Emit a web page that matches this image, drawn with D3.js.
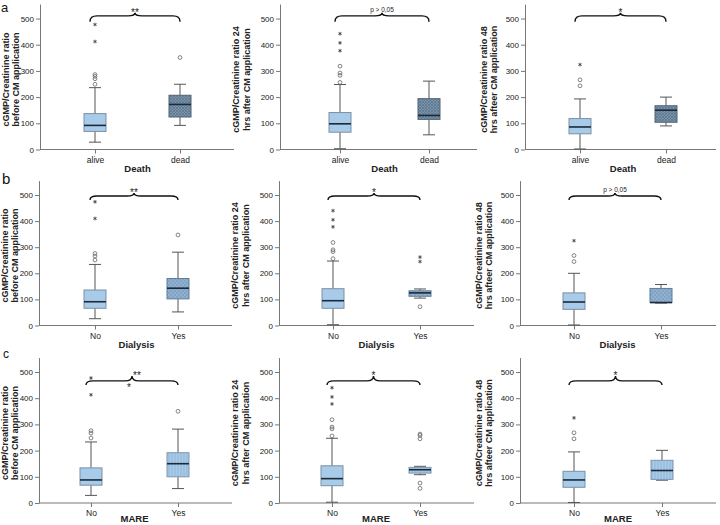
<!DOCTYPE html>
<html><head><meta charset="utf-8">
<script src="https://cdn.jsdelivr.net/npm/d3@7"></script>
<style>
html,body{margin:0;padding:0;background:#fff;}
svg{display:block;font-family:"Liberation Sans",Arial,sans-serif;-webkit-font-smoothing:antialiased;}
</style></head>
<body>
<svg id="chart" width="720" height="525"></svg>
<script>
// ---------- DATA ----------
const panelLetters = ["a", "b", "c"];
const groupTitles = ["Death", "Dialysis", "MARE"];
const categories = [["alive", "dead"], ["No", "Yes"], ["No", "Yes"]];
const yLabels = [
  ["cGMP/Creatinine ratio", "before CM application"],
  ["cGMP/Creatinine ratio 24", "hrs after CM application"],
  ["cGMP/Creatinine ratio 48", "hrs afteer CM application"]
];
const yTicks = [0, 100, 200, 300, 400, 500];
const significance = [
  ["**", "p > 0,05", "*"],
  ["**", "*", "p > 0,05"],
  ["**", "*", "*"]
];
// box statistics [low whisker, Q1, median, Q3, high whisker] per time point, per group
const boxesDeath = [
  [[28, 69, 92, 137, 236], [92, 124, 172, 207, 249]],
  [[3, 66, 98, 141, 248], [56, 115, 130, 194, 261]],
  [[2, 60, 86, 118, 193], [90, 104, 150, 167, 200]]
];
const boxesDialysis = [
  [[26, 66, 91, 136, 234], [52, 102, 143, 180, 281]],
  [[3, 66, 95, 141, 247], [105, 112, 125, 133, 140]],
  [[2, 62, 90, 125, 200], [86, 88, 88, 142, 157]]
];
const boxesMARE = [
  [[29, 68, 88, 134, 233], [55, 100, 150, 192, 282]],
  [[3, 66, 93, 142, 247], [108, 114, 127, 136, 140]],
  [[2, 60, 88, 121, 195], [87, 90, 124, 163, 201]]
];
// outliers (circles) and extremes (stars)
const circlesDeath = [[[249, 270, 279, 286], [351]], [[256, 283, 292, 318], []], [[243, 266], []]];
const starsDeath = [[[412, 477], []], [[377, 407, 442], []], [[324], []]];
const circlesDialysis = [[[251, 266, 276], [347]], [[256, 283, 290, 318], [72]], [[245, 268], []]];
const starsDialysis = [[[410, 474], []], [[378, 405, 440], [245, 262]], [[325], []]];
const circlesMARE = [[[248, 267, 276], [350]], [[256, 283, 290, 318], [76, 56, 245, 258, 263]], [[245, 268], []]];
const starsMARE = [[[413, 477], []], [[378, 405, 440], []], [[325], []]];

const boxes = [boxesDeath, boxesDialysis, boxesMARE];
const circles = [circlesDeath, circlesDialysis, circlesMARE];
const stars = [starsDeath, starsDialysis, starsMARE];

// ---------- LAYOUT ----------
const axisX = [[40, 280, 525], [39, 279, 520], [39, 279, 520]];
const catX = [[[95, 180], [340, 429], [580, 666]], [[95, 178], [333, 420], [574, 661]], [[91, 178], [332, 420], [574, 662]]];
const xEnd = [[234, 477, 716], [232, 474, 716], [232, 474, 716]];
const y0px = [149.5, 325.5, 503];
const y500px = [18.5, 195, 372];
const labelOff = [[-31, -21], [-41, -30.5], [-38, -28]];
const titleOff = [22, 22, 19];
const braceV = [[510, 488, 522], [496, 481, 508], [466, 450, 485]]; // flat, end, peak (value units)

const svg = d3.select("#chart");
const defs = svg.append("defs");

// patterns for second-group boxes
const pHatch = defs.append("pattern").attr("id", "hatch").attr("patternUnits", "userSpaceOnUse").attr("width", 3).attr("height", 3);
pHatch.append("rect").attr("width", 3).attr("height", 3).attr("fill", "#7893aa");
pHatch.append("path").attr("d", "M0,0L3,3M3,0L0,3").attr("stroke", "#5d7489").attr("stroke-width", 0.7);
const pDots = defs.append("pattern").attr("id", "dots").attr("patternUnits", "userSpaceOnUse").attr("width", 4).attr("height", 4);
pDots.append("rect").attr("width", 4).attr("height", 4).attr("fill", "#90b0cf");
pDots.append("circle").attr("cx", 1).attr("cy", 1).attr("r", 0.8).attr("fill", "#7192b4");
pDots.append("circle").attr("cx", 3).attr("cy", 3).attr("r", 0.8).attr("fill", "#7192b4");
const pV = defs.append("pattern").attr("id", "vlines").attr("patternUnits", "userSpaceOnUse").attr("width", 3).attr("height", 3);
pV.append("rect").attr("width", 3).attr("height", 3).attr("fill", "#a9cbea");
pV.append("line").attr("x1", 1).attr("x2", 1).attr("y1", 0).attr("y2", 3).attr("stroke", "#8aaed3").attr("stroke-width", 0.8);
const secondFill = ["url(#hatch)", "url(#dots)", "url(#vlines)"];
const secondStroke = ["#4e6274", "#5f7c98", "#7d97b0"];

const starSym = d3.symbol().type(d3.symbolAsterisk || d3.symbolCross).size(9);

// panel letters
svg.append("text").attr("x", 1).attr("y", 12).attr("font-size", 13).attr("fill", "#111").text(panelLetters[0]);
svg.append("text").attr("x", 2).attr("y", 184).attr("font-size", 15).attr("fill", "#111").text(panelLetters[1]);
svg.append("text").attr("x", 3).attr("y", 358).attr("font-size", 12).attr("fill", "#111").text(panelLetters[2]);

for (let r = 0; r < 3; r++) {
  for (let c = 0; c < 3; c++) {
    const g = svg.append("g");
    const y0 = y0px[r], y5 = y500px[r];
    const y = d3.scaleLinear().domain([0, 555]).range([y0, y0 - (y0 - y5) * 555 / 500]);
    const x = d3.scalePoint().domain(categories[r]).range(catX[r][c]);
    const ax = axisX[r][c];

    // y axis
    const ya = g.append("g").attr("transform", `translate(${ax},0)`)
      .call(d3.axisLeft(y).tickValues(yTicks).tickSize(4).tickSizeOuter(0).tickPadding(2));
    ya.select(".domain").attr("stroke", "#777");
    ya.selectAll(".tick line").attr("stroke", "#777");
    ya.selectAll(".tick text").attr("font-size", 8).attr("fill", "#222").attr("font-family", "Liberation Sans, Arial");

    // x axis
    g.append("line").attr("x1", ax).attr("x2", xEnd[r][c]).attr("y1", y0).attr("y2", y0).attr("stroke", "#777");
    const xa = g.append("g").attr("transform", `translate(0,${y0})`)
      .call(d3.axisBottom(x).tickSize(4).tickPadding(3));
    xa.select(".domain").remove();
    xa.selectAll(".tick line").attr("stroke", "#777");
    xa.selectAll(".tick text").attr("font-size", 8.5).attr("fill", "#222").attr("font-family", "Liberation Sans, Arial");

    // x title
    g.append("text").attr("x", (catX[r][c][0] + catX[r][c][1]) / 2).attr("y", y0 + titleOff[r])
      .attr("text-anchor", "middle").attr("font-size", 9.5).attr("font-weight", "bold").attr("fill", "#222")
      .text(groupTitles[r]);

    // y labels
    const yc = y0 - 70;
    yLabels[c].forEach((t, i) => {
      g.append("text").attr("transform", `translate(${ax + labelOff[c][i]},${yc}) rotate(-90)`)
        .attr("text-anchor", "middle").attr("font-size", 9).attr("font-weight", "bold").attr("fill", "#222")
        .text(t);
    });

    // boxes
    categories[r].forEach((cat, gi) => {
      const s = boxes[r][c][gi];
      const cx = x(cat);
      const bw = 22, cw = 12;
      const wc = "#555";
      g.append("line").attr("x1", cx).attr("x2", cx).attr("y1", y(s[0])).attr("y2", y(s[1])).attr("stroke", wc);
      g.append("line").attr("x1", cx).attr("x2", cx).attr("y1", y(s[3])).attr("y2", y(s[4])).attr("stroke", wc);
      g.append("line").attr("x1", cx - cw / 2).attr("x2", cx + cw / 2).attr("y1", y(s[0])).attr("y2", y(s[0])).attr("stroke", wc);
      g.append("line").attr("x1", cx - cw / 2).attr("x2", cx + cw / 2).attr("y1", y(s[4])).attr("y2", y(s[4])).attr("stroke", wc);
      g.append("rect").attr("x", cx - bw / 2).attr("y", y(s[3])).attr("width", bw).attr("height", y(s[1]) - y(s[3]))
        .attr("fill", gi === 0 ? "#a9cbea" : secondFill[r])
        .attr("stroke", gi === 0 ? "#7b8fa3" : secondStroke[r]).attr("stroke-width", 1);
      g.append("line").attr("x1", cx - bw / 2).attr("x2", cx + bw / 2).attr("y1", y(s[2])).attr("y2", y(s[2]))
        .attr("stroke", "#1b2a3a").attr("stroke-width", 1.6);

      circles[r][c][gi].forEach(v => {
        g.append("circle").attr("cx", cx).attr("cy", y(v)).attr("r", 1.9)
          .attr("fill", "none").attr("stroke", "#666").attr("stroke-width", 0.8);
      });
      stars[r][c][gi].forEach(v => {
        g.append("path").attr("d", starSym()).attr("transform", `translate(${cx},${y(v)})`)
          .attr("fill", "none").attr("stroke", "#444").attr("stroke-width", 0.9);
      });
    });

    // brace
    const [fv, ev, pv] = braceV[r];
    const xl = catX[r][c][0] - 5, xr = catX[r][c][1];
    const xm = (xl + xr) / 2;
    const yf = y(fv), ye = y(ev), yp = y(pv);
    const p = d3.path();
    p.moveTo(xl, ye);
    p.quadraticCurveTo(xl, yf, xl + 7, yf);
    p.lineTo(xm - 7, yf);
    p.quadraticCurveTo(xm, yf, xm, yp);
    p.quadraticCurveTo(xm, yf, xm + 7, yf);
    p.lineTo(xr - 7, yf);
    p.quadraticCurveTo(xr, yf, xr, ye);
    g.append("path").attr("d", p.toString()).attr("fill", "none").attr("stroke", "#111").attr("stroke-width", 1.4);

    const sig = significance[r][c];
    const isP = sig.startsWith("p");
    g.append("text").attr("x", (r === 2 && c === 0) ? xm + 5 : xm).attr("y", isP ? yp - 1 : yp + 3)
      .attr("text-anchor", "middle").attr("font-size", isP ? 6.5 : 10).attr("fill", "#222").text(sig);
    if (r === 2 && c === 0) {
      g.append("text").attr("x", xm - 3).attr("y", yf + 10).attr("text-anchor", "middle")
        .attr("font-size", 10).attr("fill", "#222").text("*");
    }
  }
}
</script>
</body></html>
